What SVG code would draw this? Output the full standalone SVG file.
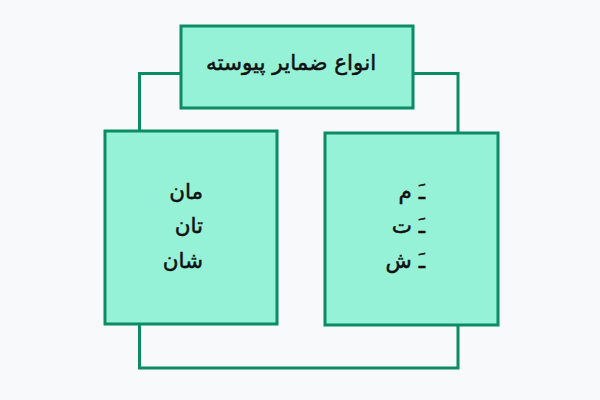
<svg xmlns="http://www.w3.org/2000/svg" width="600" height="400" viewBox="0 0 600 400">
<style>
.box{fill:#96f2d7;stroke:#0b8c62;stroke-width:3}
.conn{fill:none;stroke:#0b8c62;stroke-width:3;stroke-linejoin:miter}
.t{font-family:"DejaVu Sans",sans-serif;font-size:21.5px;fill:#111;stroke:#111;stroke-width:0.5;direction:rtl}
</style>
<rect width="600" height="400" fill="#f8f9fb"/>
<g id="connectors">
<polyline class="conn" points="181,73.5 139.5,73.5 139.5,131"/>
<polyline class="conn" points="413,73.5 458,73.5 458,133"/>
<polyline class="conn" points="139.5,324 139.5,368 458,368 458,326"/>
</g>
<g id="top">
<rect class="box" x="181" y="26" width="232" height="82"/>
<text class="t" x="291" y="70" text-anchor="middle">انواع ضمایر پیوسته</text>
</g>
<g id="left">
<rect class="box" x="105" y="131" width="172" height="193"/>
<text class="t" x="203" y="199" text-anchor="start">مان</text>
<text class="t" x="203" y="233" text-anchor="start">تان</text>
<text class="t" x="203" y="268" text-anchor="start">شان</text>
</g>
<g id="right">
<rect class="box" x="325" y="133" width="173" height="192"/>
<text class="t" x="425" y="199" text-anchor="start">ـَ م</text>
<text class="t" x="425" y="233" text-anchor="start">ـَ ت</text>
<text class="t" x="425" y="268" text-anchor="start">ـَ ش</text>
</g>
</svg>
